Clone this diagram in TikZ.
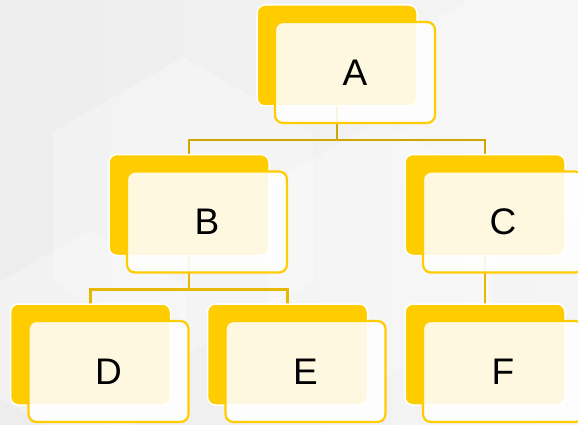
\documentclass[tikz,border=0pt]{standalone}
\usepackage{fontspec}
\setsansfont{Liberation Sans}
\pgfdeclarelayer{back}
\pgfdeclarelayer{lines}
\pgfsetlayers{back,lines,main}

\definecolor{cardgold}{HTML}{FFCC00}
\definecolor{linegold}{HTML}{D2A600}
\definecolor{linelight}{HTML}{E6B800}
\definecolor{paper}{HTML}{EDEDEE}

\tikzset{
  card/.style={draw=cardgold, line width=2.2pt, rounded corners=8pt,
    fill=white, fill opacity=0.88, text opacity=1,
    minimum width=160pt, minimum height=101pt,
    font=\sffamily\fontsize{37}{40}\selectfont,
    preaction={draw=white, line width=1.5pt, fill=cardgold, fill opacity=1,
      transform canvas={shift={(-18pt,17pt)}}}},
  link/.style={line width=2.5pt},
  hexa/.style={fill=white, fill opacity=0.28}
}

\begin{document}
\begin{tikzpicture}[x=1pt,y=1pt]
  \useasboundingbox (0,0) rectangle (578,-425);
  \begin{pgfonlayer}{back}
    \shade[left color=paper, right color=paper!55!white] (0,0) rectangle (578,-425);
    \foreach \cx/\cy/\r in {183/-207/150, 380/-250/130, 90/-340/110, 520/-110/140} {
      \fill[hexa] (\cx,\cy) ++(90:\r) -- ++(-30:\r) -- ++(-90:\r) -- ++(-150:\r)
        -- ++(150:\r) -- ++(90:\r) -- cycle;
    }
  \end{pgfonlayer}
  \path[level distance=149.5pt,
      level 1/.style={sibling distance=296pt},
      level 2/.style={sibling distance=197pt},
      edge from parent/.style={draw=none}]
    (355,-72.5) node[card] (A) {A}
    child {
      node[card] (B) {B}
      child {node[card] (D) {D}}
      child {node[card] (E) {E}}
    }
    child {
      node[card] (C) {C}
      child {node[card] (F) {F}}
    };
  % connectors, behind the cards
  \begin{pgfonlayer}{lines}
    \foreach \p/\c/\col in {A/B/linegold, A/C/linegold, B/D/linelight, B/E/linelight, C/F/linelight} {
      \draw[link, draw=\col] ([shift={(-18pt,17pt)}]\p.center)
        -- ([shift={(-18pt,-16pt)}]\p.south)
        -| ([shift={(-18pt,17pt)}]\c.center);
    }
  \end{pgfonlayer}
\end{tikzpicture}
\end{document}
